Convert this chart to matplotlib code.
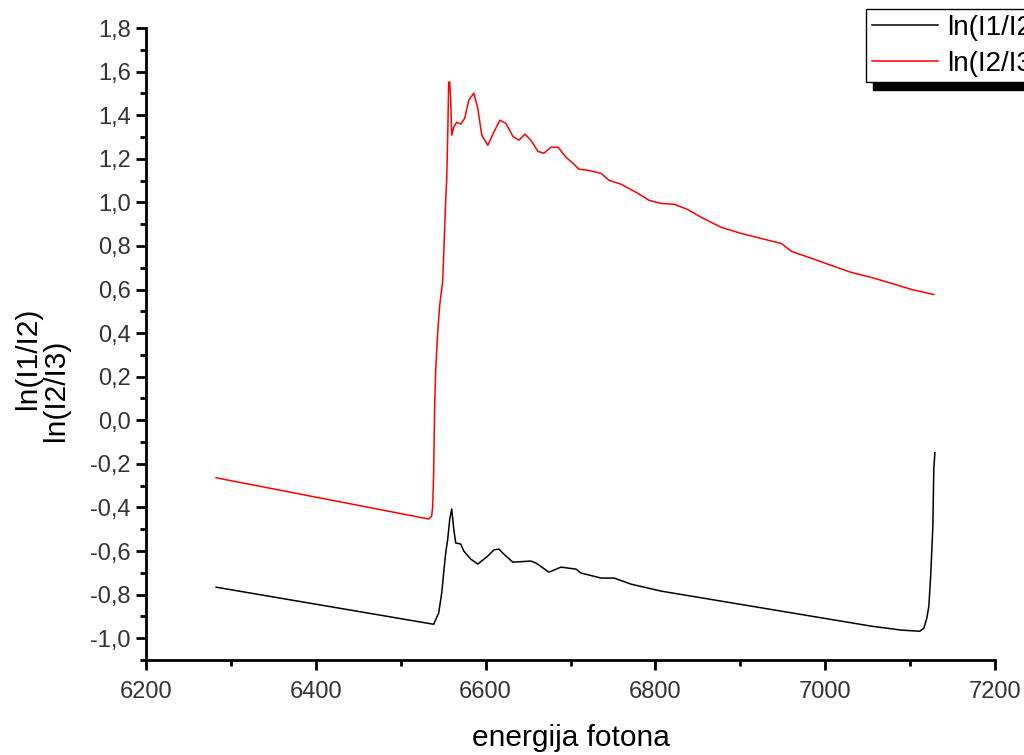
import matplotlib.pyplot as plt
from matplotlib.ticker import MultipleLocator, FuncFormatter
from matplotlib.patches import Rectangle

plt.rcParams['font.family'] = ['Liberation Sans', 'DejaVu Sans']
plt.rcParams['axes.unicode_minus'] = False

# ln(I1/I2) - black curve
e_black = [6282.6, 6538.8, 6544.7, 6548.3, 6550.6, 6553.0, 6555.4, 6557.8, 6560.1,
           6562.5, 6564.8, 6570.7, 6574.3, 6582.5, 6590.8, 6602.6, 6609.7, 6615.6,
           6621.5, 6632.1, 6653.4, 6659.3, 6674.6, 6688.8, 6706.5, 6712.4, 6736.0,
           6751.4, 6771.4, 6806.8, 6842.3, 6877.7, 6913.1, 6948.5, 6983.9, 7019.4,
           7054.8, 7090.2, 7111.5, 7116.2, 7119.7, 7122.1, 7124.4, 7126.8, 7127.9,
           7129.2]
ln_i1_i2 = [-0.766, -0.936, -0.885, -0.793, -0.701, -0.609, -0.545, -0.453, -0.407,
            -0.499, -0.563, -0.568, -0.600, -0.637, -0.660, -0.623, -0.595, -0.591,
            -0.614, -0.651, -0.646, -0.655, -0.697, -0.674, -0.683, -0.701, -0.724,
            -0.724, -0.752, -0.784, -0.807, -0.830, -0.853, -0.876, -0.899, -0.922,
            -0.945, -0.963, -0.968, -0.954, -0.908, -0.853, -0.701, -0.485, -0.223,
            -0.149]

# ln(I2/I3) - red curve
e_red = [6282.6, 6532.9, 6536.5, 6537.7, 6538.8, 6540.0, 6541.2, 6543.5, 6545.9,
         6549.5, 6553.0, 6554.2, 6555.4, 6556.5, 6557.7, 6558.9, 6560.1, 6562.5,
         6566.0, 6570.7, 6575.4, 6580.2, 6586.1, 6590.8, 6595.5, 6602.6, 6609.7,
         6616.8, 6623.8, 6632.1, 6639.2, 6646.3, 6653.4, 6661.6, 6668.7, 6677.0,
         6685.3, 6694.7, 6703.0, 6710.0, 6720.7, 6736.0, 6745.5, 6759.6, 6777.3,
         6792.7, 6806.8, 6822.2, 6837.5, 6854.1, 6877.7, 6901.3, 6924.9, 6948.5,
         6960.3, 6983.9, 7007.6, 7031.2, 7054.8, 7078.4, 7102.0, 7128.0]
ln_i2_i3 = [-0.264, -0.453, -0.439, -0.393, -0.246, 0.067, 0.228, 0.398, 0.526,
            0.641, 1.009, 1.110, 1.308, 1.552, 1.552, 1.469, 1.308, 1.345,
            1.368, 1.359, 1.386, 1.469, 1.501, 1.432, 1.308, 1.262, 1.322,
            1.377, 1.363, 1.303, 1.285, 1.313, 1.285, 1.234, 1.225, 1.253,
            1.253, 1.207, 1.179, 1.152, 1.147, 1.133, 1.101, 1.083, 1.046,
            1.009, 0.995, 0.991, 0.968, 0.931, 0.885, 0.857, 0.834, 0.811,
            0.775, 0.743, 0.710, 0.678, 0.655, 0.628, 0.600, 0.577]

labels = ['ln(I1/I2)', 'ln(I2/I3)']

fig = plt.figure(figsize=(10.24, 7.55), dpi=100)
ax = fig.add_axes([146 / 1024, 95 / 755, 849 / 1024, 632 / 755])
ax.set_facecolor('none')

l1, = ax.plot(e_black, ln_i1_i2, color='black', lw=1.1)
l2, = ax.plot(e_red, ln_i2_i3, color='red', lw=1.1)

ax.set_xlim(6200, 7200)
ax.set_ylim(-1.1, 1.8)

ax.spines['top'].set_visible(False)
ax.spines['right'].set_visible(False)
ax.spines['left'].set_linewidth(2)
ax.spines['bottom'].set_linewidth(2)

ax.xaxis.set_major_locator(MultipleLocator(200))
ax.xaxis.set_minor_locator(MultipleLocator(100))
ax.yaxis.set_major_locator(MultipleLocator(0.2))
ax.yaxis.set_minor_locator(MultipleLocator(0.1))
ax.xaxis.set_major_formatter(FuncFormatter(lambda v, p: f"{v:.0f}"))
ax.yaxis.set_major_formatter(FuncFormatter(lambda v, p: f"{v:.1f}".replace('.', ',')))

ax.tick_params(which='major', direction='out', length=7, width=2, labelsize=17,
               colors='black', labelcolor='#333333')
ax.tick_params(which='minor', direction='out', length=4, width=2)
ax.tick_params(axis='x', pad=8)
ax.tick_params(axis='y', pad=4)

ax.set_xlabel('energija fotona', fontsize=21.5, labelpad=15)
fig.text(28 / 1024, 1 - 358 / 755, labels[0], rotation=90, fontsize=21.5,
         ha='center', va='center')
fig.text(56 / 1024, 1 - 390 / 755, labels[1], rotation=90, fontsize=21.5,
         ha='center', va='center')

# legend box with a solid offset shadow
leg = fig.legend([l1, l2], labels, loc='upper left',
                 bbox_to_anchor=(866 / 1024, 1 - 9 / 755),
                 bbox_transform=fig.transFigure, borderaxespad=0,
                 fontsize=20, frameon=True, fancybox=False, framealpha=1,
                 edgecolor='black', handlelength=2.4, handletextpad=0.32,
                 borderpad=0.2, labelspacing=0.36)
leg.get_frame().set_linewidth(1.0)
leg.set_zorder(5)
fig.patches.append(Rectangle((873 / 1024, 1 - 90 / 755), 0.2, 75 / 755,
                             transform=fig.transFigure, color='black',
                             zorder=4, figure=fig))

fig.savefig('out.png', dpi=100)
